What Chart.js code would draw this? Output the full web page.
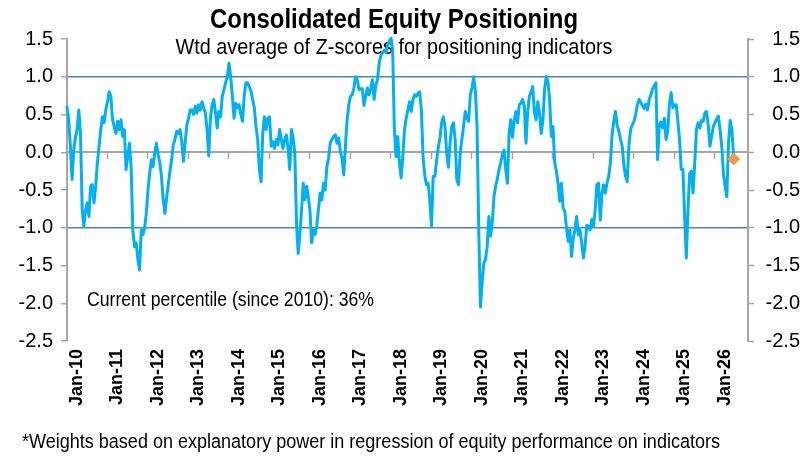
<!DOCTYPE html>
<html>
<head>
<meta charset="utf-8">
<script src="https://cdn.jsdelivr.net/npm/chart.js@4.4.1/dist/chart.umd.min.js"></script>
<style>
html,body{margin:0;padding:0;background:#ffffff;}
#wrap{width:810px;height:457px;}
</style>
</head>
<body>
<div id="wrap"><canvas id="c" width="810" height="457"></canvas></div>
<script>
// ---------------- DATA ----------------
const startYear = 2010;          // first observation: start of Jan-2010
const obsPerYear = 24;           // semi-monthly observations
const values = [
 0.6, 0.43, 0.08, -0.36, 0.03, 0.2, 0.3, 0.56, 0.25, -0.76, -0.98, -0.76, -0.67, -0.85, -0.45, -0.43, -0.67, -0.45, -0.14, 0.08, 0.3, 0.47, 0.39, 0.56, 0.67, 0.8, 0.74, 0.43, 0.34, 0.25, 0.41, 0.3, 0.43, 0.21, 0.3, -0.23, -0.06, 0.12, -0.19, -1.03, -1.25, -1.2, -1.42, -1.56,
 -1.03, -1.09, -1.0, -0.81, -0.5, -0.28, -0.1, -0.19, -0.01, 0.12, -0.03, -0.14, -0.32, -0.63, -0.81, -0.61, -0.43, -0.25, -0.1, 0.1, 0.17, 0.28, 0.25, 0.3, 0.14, -0.12, 0.12, 0.36, 0.45, 0.56, 0.56, 0.5, 0.61, 0.52, 0.63, 0.56, 0.67, 0.59, 0.52, 0.3, -0.05, 0.45, 0.63, 0.7,
 0.52, 0.32, 0.54, 0.47, 0.74, 0.83, 0.92, 1.0, 1.18, 1.0, 0.74, 0.45, 0.65, 0.59, 0.63, 0.5, 0.41, 0.74, 0.92, 0.92, 0.87, 0.81, 0.7, 0.59, 0.34, 0.17, -0.23, -0.39, 0.25, 0.47, 0.3, 0.45, 0.47, 0.08, 0.14, 0.05, 0.17, 0.1, 0.3, 0.17, 0.05, 0.17, 0.23, 0.05, -0.23,
 0.3, 0.19, -0.01, -0.94, -1.34, -1.09, -0.76, -0.41, -0.63, -0.45, -0.59, -0.78, -1.2, -1.03, -1.09, -0.98, -0.76, -0.54, -0.63, -0.41, -0.5, -0.19, -0.08, 0.12, 0.17, 0.21, 0.23, 0.12, 0.19, 0.01, -0.08, -0.3, 0.08, 0.43, 0.63, 0.74, 0.76, 0.85, 1.0, 0.96, 0.83, 0.84, 0.84, 0.62, 0.74,
 0.85, 0.76, 0.85, 0.96, 0.7, 0.89, 0.96, 1.18, 1.28, 1.32, 1.35, 1.32, 1.42, 1.47, 1.51, 1.36, 0.3, -0.06, 0.21, -0.14, -0.34, -0.06, 0.3, 0.45, 0.56, 0.67, 0.54, 0.7, 0.76, 0.74, 0.78, 0.8, 0.56, -0.06, -0.3, -0.43, -0.41, -0.63, -0.98, -0.32, -0.32, -0.12, 0.06, 0.19,
 0.39, 0.47, 0.34, -0.01, -0.2, 0.12, 0.34, 0.39, 0.17, -0.36, -0.43, -0.01, 0.17, 0.34, 0.54, 0.45, 0.41, 0.76, 0.85, 1.0, 0.81, 0.34, -1.03, -2.05, -1.73, -1.47, -1.42, -1.25, -0.85, -1.11, -0.94, -0.59, -0.45, -0.36, -0.23, -0.14, -0.03, 0.03, -0.23, -0.41, 0.25, 0.43, 0.2, 0.42,
 0.54, 0.39, 0.63, 0.65, 0.7, 0.61, 0.12, 0.54, 0.74, 0.8, 0.87, 0.52, 0.43, 0.67, 0.52, 0.25, 0.41, 0.83, 1.0, 0.94, 0.7, 0.21, 0.34, -0.14, -0.25, -0.41, -0.65, -0.41, -0.74, -0.78, -1.0, -1.18, -1.03, -1.38, -1.14, -1.03, -0.85, -1.09, -1.03, -1.2, -1.4, -1.25, -0.97, -0.98,
 -1.03, -0.89, -0.98, -0.76, -0.43, -0.41, -0.9, -0.55, -0.43, -0.54, -0.41, -0.32, -0.14, 0.23, 0.41, 0.54, 0.36, 0.28, 0.17, 0.08, -0.17, -0.32, -0.39, 0.1, 0.3, 0.36, 0.41, 0.5, 0.63, 0.7, 0.66, 0.62, 0.58, 0.64, 0.56, 0.7, 0.76, 0.84, 0.88, 0.92, -0.1, 0.36, 0.4, 0.32, 0.45,
 0.17, 0.28, 0.63, 0.79, 0.59, 0.63, 0.63, 0.41, 0.17, -0.23, -0.23, -0.85, -1.4, -0.76, -0.28, -0.25, -0.54, -0.14, 0.3, 0.39, 0.32, 0.42, 0.41, 0.52, 0.54, 0.36, 0.08, 0.21, 0.34, 0.39, 0.44, 0.48, 0.3, 0.08, -0.28, -0.45, -0.59, 0.12, 0.42, 0.3, -0.03
];
const dates = values.map((_, i) => startYear + i / obsPerYear);   // decimal-year dates
const currentValue = -0.09;                                        // latest reading (orange marker)
const yearTicks = [2010, 2011, 2012, 2013, 2014, 2015, 2016, 2017, 2018, 2019, 2020, 2021, 2022, 2023, 2024, 2025, 2026];
const xLabels = ["Jan-10","Jan-11","Jan-12","Jan-13","Jan-14","Jan-15","Jan-16","Jan-17","Jan-18","Jan-19","Jan-20","Jan-21","Jan-22","Jan-23","Jan-24","Jan-25","Jan-26"];
const yTicks = [-2.5, -2.0, -1.5, -1.0, -0.5, 0.0, 0.5, 1.0, 1.5];
const bandLines = [1.0, -1.0];
const xMin = 2010, xMax = 2026.815;
const titleText = "Consolidated Equity Positioning";
const subtitleText = "Wtd average of Z-scores for positioning indicators";
const noteText = "Current percentile (since 2010): 36%";
const footText = "*Weights based on explanatory power in regression of equity performance on indicators";

// ---------------- STYLE ----------------
const SANS = '"Liberation Sans",Arial,sans-serif';
const AXIS_GREY = '#A6A6A6';
const LINE_BLUE = '#00B0F0';
const BAND_BLUE = '#4F81BD';
const ORANGE = '#F79646';

// draws text condensed horizontally (Arial-Narrow look) to a target width
function drawNarrow(c, text, x, y, align, px, weight, targetW) {
  c.save();
  c.font = weight + ' ' + px + 'px ' + SANS;
  const w = c.measureText(text).width;
  const sx = targetW / w;
  c.translate(x, y);
  c.scale(sx, 1);
  c.textAlign = align;
  c.textBaseline = 'alphabetic';
  c.fillStyle = '#000';
  c.fillText(text, 0, 0);
  c.restore();
}

const textPlugin = {
  id: 'texts',
  beforeDatasetsDraw(chart) {
    const c = chart.ctx;
    drawNarrow(c, subtitleText, 394, 54, 'center', 22, 'normal', 437);
    drawNarrow(c, noteText, 87, 306, 'left', 20, 'normal', 287);
  },
  afterDraw(chart) {
    const c = chart.ctx;
    drawNarrow(c, titleText, 394, 28, 'center', 28.5, 'bold', 368);
    drawNarrow(c, footText, 22, 448, 'left', 19.5, 'normal', 698);
  }
};

const setYearTicks = s => { s.ticks = yearTicks.map(v => ({ value: v })); };
const setYTicks = s => { s.ticks = yTicks.map(v => ({ value: v })); };

new Chart(document.getElementById('c'), {
  type: 'line',
  data: {
    datasets: [
      {
        data: dates.map((d, i) => ({ x: d, y: values[i] })),
        borderColor: LINE_BLUE,
        borderWidth: 3,
        borderJoinStyle: 'round',
        borderCapStyle: 'round',
        pointRadius: 0,
        tension: 0,
        clip: false,
        xAxisID: 'x2',
        yAxisID: 'y',
        order: 2
      },
      {
        type: 'scatter',
        data: [{ x: dates[dates.length - 1], y: currentValue }],
        pointStyle: 'rectRot',
        pointRadius: 6.5,
        backgroundColor: ORANGE,
        borderColor: ORANGE,
        borderWidth: 0,
        clip: false,
        xAxisID: 'x2',
        yAxisID: 'y',
        order: 1
      }
    ]
  },
  options: {
    responsive: false,
    animation: false,
    devicePixelRatio: 1,
    layout: { padding: { top: 39, right: 10, left: 0, bottom: 0 } },
    plugins: { legend: { display: false }, tooltip: { enabled: false }, title: { display: false } },
    scales: {
      x: {
        type: 'linear', min: xMin, max: xMax,
        position: { y: 0 },
        afterBuildTicks: setYearTicks,
        ticks: { display: false },
        grid: { drawOnChartArea: false, drawTicks: true, tickLength: 6, tickColor: AXIS_GREY, tickWidth: 1.5 },
        border: { display: true, color: AXIS_GREY, width: 2 }
      },
      x2: {
        type: 'linear', min: xMin, max: xMax,
        position: 'bottom',
        afterBuildTicks: setYearTicks,
        ticks: {
          autoSkip: false, maxRotation: 90, minRotation: 90, padding: 8,
          labelOffset: 10,
          color: '#000',
          font: { family: SANS, size: 18, weight: 'bold' },
          callback: (v) => xLabels[yearTicks.indexOf(v)]
        },
        grid: { display: false, drawTicks: false },
        border: { display: false },
        afterFit: s => { s.height = 116; }
      },
      y: {
        position: 'left', min: -2.5, max: 1.5,
        afterBuildTicks: setYTicks,
        ticks: { color: '#000', padding: 8, font: { family: SANS, size: 20 }, callback: v => v.toFixed(1) },
        grid: {
          color: c => bandLines.some(b => Math.abs(b - c.tick.value) < 1e-9) ? BAND_BLUE : 'rgba(0,0,0,0)',
          lineWidth: 1.5,
          drawTicks: true, tickLength: 6, tickColor: AXIS_GREY, tickWidth: 1.5
        },
        border: { color: AXIS_GREY, width: 2 },
        afterFit: s => { s.width = 67; }
      },
      y2: {
        position: 'right', min: -2.5, max: 1.5,
        afterBuildTicks: setYTicks,
        ticks: { color: '#000', crossAlign: 'far', font: { family: SANS, size: 20 }, callback: v => v.toFixed(1) },
        grid: { drawOnChartArea: false, drawTicks: true, tickLength: 6, tickColor: AXIS_GREY, tickWidth: 1.5 },
        border: { color: AXIS_GREY, width: 2 },
        afterFit: s => { s.width = 52; }
      }
    }
  },
  plugins: [textPlugin]
});
</script>
</body>
</html>
